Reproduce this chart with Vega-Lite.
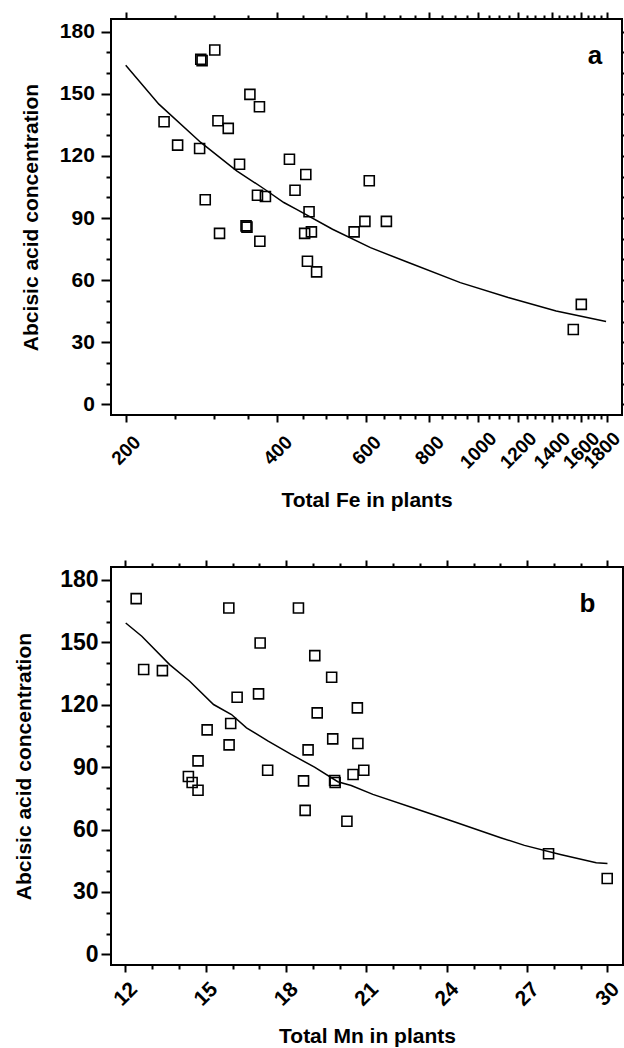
{
  "$schema": "https://vega.github.io/schema/vega-lite/v6.json",
  "padding": {"top": 10, "left": 12, "right": 1, "bottom": 0},
  "spacing": 46,
  "config": {
    "font": "Liberation Sans",
    "view": {"stroke": "black", "strokeWidth": 2},
    "axis": {
      "domain": false, "grid": false, "tickColor": "black", "tickWidth": 2,
      "labelFont": "Liberation Sans", "titleFont": "Liberation Sans",
      "labelFontWeight": "bold", "titleFontWeight": "bold",
      "labelColor": "black", "titleColor": "black",
      "labelOverlap": false, "labelFlush": false
    }
  },
  "datasets": {
    "fe_points": [
      {"fe": 281.8, "aba": 166.7}, {"fe": 283.5, "aba": 166.0}, {"fe": 300.4, "aba": 171.1},
      {"fe": 238.3, "aba": 136.5}, {"fe": 253.5, "aba": 125.2}, {"fe": 280.3, "aba": 123.6},
      {"fe": 352.7, "aba": 149.7}, {"fe": 368.4, "aba": 143.7}, {"fe": 304.8, "aba": 137.0},
      {"fe": 319.5, "aba": 133.3}, {"fe": 336.4, "aba": 116.0}, {"fe": 422.5, "aba": 118.4},
      {"fe": 455.3, "aba": 111.0}, {"fe": 608.4, "aba": 108.0}, {"fe": 433.4, "aba": 103.4},
      {"fe": 365.1, "aba": 101.0}, {"fe": 378.6, "aba": 100.4}, {"fe": 287.6, "aba": 98.8},
      {"fe": 462.1, "aba": 93.0}, {"fe": 307.0, "aba": 82.6}, {"fe": 346.5, "aba": 86.2},
      {"fe": 348.0, "aba": 85.6}, {"fe": 369.1, "aba": 78.8}, {"fe": 452.9, "aba": 82.6},
      {"fe": 467.1, "aba": 83.3}, {"fe": 458.7, "aba": 69.1}, {"fe": 478.3, "aba": 64.0},
      {"fe": 567.7, "aba": 83.3}, {"fe": 596.4, "aba": 88.4}, {"fe": 657.9, "aba": 88.4},
      {"fe": 1545, "aba": 36.2}, {"fe": 1602.6, "aba": 48.3}
    ],
    "fe_curve": [
      {"fe": 200, "aba": 163.8}, {"fe": 232.7, "aba": 145.0}, {"fe": 281.8, "aba": 126.5},
      {"fe": 332, "aba": 112.8}, {"fe": 377.3, "aba": 103.9}, {"fe": 411.8, "aba": 97.5},
      {"fe": 436.5, "aba": 94.2}, {"fe": 514.4, "aba": 84.6}, {"fe": 611.8, "aba": 75.7},
      {"fe": 727.5, "aba": 68.5}, {"fe": 922.2, "aba": 58.8}, {"fe": 1147.6, "aba": 51.6},
      {"fe": 1428.7, "aba": 45.1}, {"fe": 1794.6, "aba": 40.0}
    ],
    "mn_points": [
      {"mn": 12.40, "aba": 171.0}, {"mn": 15.86, "aba": 166.5}, {"mn": 18.46, "aba": 166.5},
      {"mn": 17.03, "aba": 149.7}, {"mn": 19.07, "aba": 143.6}, {"mn": 12.68, "aba": 136.9},
      {"mn": 13.38, "aba": 136.4}, {"mn": 19.70, "aba": 133.2}, {"mn": 16.17, "aba": 123.6},
      {"mn": 16.97, "aba": 125.2}, {"mn": 20.66, "aba": 118.5}, {"mn": 19.16, "aba": 116.1},
      {"mn": 15.93, "aba": 111.0}, {"mn": 15.05, "aba": 107.9}, {"mn": 19.74, "aba": 103.6},
      {"mn": 20.68, "aba": 101.4}, {"mn": 15.87, "aba": 100.7}, {"mn": 18.82, "aba": 98.3},
      {"mn": 14.71, "aba": 93.0}, {"mn": 14.35, "aba": 85.5}, {"mn": 14.49, "aba": 82.6},
      {"mn": 14.71, "aba": 78.9}, {"mn": 17.31, "aba": 88.5}, {"mn": 18.65, "aba": 83.4},
      {"mn": 18.71, "aba": 69.2}, {"mn": 19.81, "aba": 83.6}, {"mn": 19.83, "aba": 82.6},
      {"mn": 20.50, "aba": 86.5}, {"mn": 20.90, "aba": 88.5}, {"mn": 20.27, "aba": 64.0},
      {"mn": 27.80, "aba": 48.4}, {"mn": 29.99, "aba": 36.5}
    ],
    "mn_curve": [
      {"mn": 12.01, "aba": 159.3}, {"mn": 12.61, "aba": 152.9}, {"mn": 13.65, "aba": 139.3},
      {"mn": 14.40, "aba": 131.3}, {"mn": 15.29, "aba": 120.1}, {"mn": 15.96, "aba": 115.3},
      {"mn": 16.52, "aba": 108.9}, {"mn": 17.33, "aba": 102.5}, {"mn": 18.19, "aba": 96.1},
      {"mn": 19.06, "aba": 90.0}, {"mn": 19.93, "aba": 83.0}, {"mn": 20.43, "aba": 81.2},
      {"mn": 21.24, "aba": 76.9}, {"mn": 22.73, "aba": 70.5}, {"mn": 24.22, "aba": 64.0},
      {"mn": 26.01, "aba": 56.1}, {"mn": 26.90, "aba": 52.4}, {"mn": 28.24, "aba": 48.0},
      {"mn": 29.58, "aba": 44.0}, {"mn": 30.00, "aba": 43.7}
    ],
    "label_a": [{"panel": "a", "fe": 1705, "aba": 164.3}],
    "label_b": [{"panel": "b", "mn": 29.25, "aba": 164.6}]
  },
  "vconcat": [
    {
      "width": 511,
      "height": 396,
      "resolve": {"axis": {"x": "independent", "y": "independent"}},
      "layer": [
        {
          "data": {"name": "fe_points"},
          "mark": {"type": "point", "shape": "square", "filled": false, "size": 100, "stroke": "black", "strokeWidth": 1.6, "opacity": 1},
          "encoding": {
            "x": {"field": "fe", "type": "quantitative", "scale": {"type": "log", "domain": [187, 1930], "nice": false},
              "axis": {"orient": "bottom", "values": [200, 400, 600, 800, 1000, 1200, 1400, 1600, 1800], "format": "d",
                "labelAngle": -45, "labelAlign": "center", "labelBaseline": "middle", "tickSize": 7, "labelPadding": 28,
                "labelOffset": {"condition": {"test": "datum.value >= 1800", "value": -5}, "value": 0},
                "labelFontSize": 19, "title": "Total Fe in plants", "titleFontSize": 21, "titlePadding": 17}},
            "y": {"field": "aba", "type": "quantitative", "scale": {"domain": [-5.1, 186.1], "nice": false},
              "axis": {"orient": "left", "values": [0, 30, 60, 90, 120, 150, 180], "tickSize": 10, "labelPadding": 6.6,
                "labelFontSize": 21, "title": "Abcisic acid concentration", "titleFontSize": 21, "titlePadding": 18}}
          }
        },
        {
          "data": {"name": "fe_points"},
          "mark": {"type": "point", "opacity": 0},
          "encoding": {
            "x": {"field": "fe", "type": "quantitative", "scale": {"type": "log", "domain": [187, 1930], "nice": false},
              "axis": {"orient": "bottom", "values": [250, 300, 350, 450, 500, 550, 650, 700, 750, 850, 900, 950, 1050, 1100, 1150, 1250, 1300, 1350, 1450, 1500, 1550, 1650, 1700, 1750],
                "labels": false, "tickSize": 4, "title": null}},
            "y": {"field": "aba", "type": "quantitative", "scale": {"domain": [-5.1, 186.1], "nice": false},
              "axis": {"orient": "left", "values": [10, 20, 40, 50, 70, 80, 100, 110, 130, 140, 160, 170], "labels": false, "tickSize": 5, "title": null}}
          }
        },
        {
          "data": {"name": "fe_curve"},
          "mark": {"type": "line", "color": "black", "strokeWidth": 1.5},
          "encoding": {
            "x": {"field": "fe", "type": "quantitative", "scale": {"type": "log", "domain": [187, 1930], "nice": false},
              "axis": {"orient": "top", "values": [200, 400, 600, 800, 1000, 1200, 1400, 1600, 1800], "labels": false, "tickSize": 7, "title": null}},
            "y": {"field": "aba", "type": "quantitative", "scale": {"domain": [-5.1, 186.1], "nice": false},
              "axis": {"orient": "right", "values": [0, 30, 60, 90, 120, 150, 180], "labels": false, "tickSize": 8, "title": null}}
          }
        },
        {
          "data": {"name": "fe_curve"},
          "mark": {"type": "point", "opacity": 0},
          "encoding": {
            "x": {"field": "fe", "type": "quantitative", "scale": {"type": "log", "domain": [187, 1930], "nice": false},
              "axis": {"orient": "top", "values": [250, 300, 350, 450, 500, 550, 650, 700, 750, 850, 900, 950, 1050, 1100, 1150, 1250, 1300, 1350, 1450, 1500, 1550, 1650, 1700, 1750],
                "labels": false, "tickSize": 4, "title": null}},
            "y": {"field": "aba", "type": "quantitative", "scale": {"domain": [-5.1, 186.1], "nice": false},
              "axis": {"orient": "right", "values": [10, 20, 40, 50, 70, 80, 100, 110, 130, 140, 160, 170], "labels": false, "tickSize": 5, "title": null}}
          }
        },
        {
          "data": {"name": "label_a"},
          "mark": {"type": "text", "fontSize": 26, "fontWeight": "bold", "align": "center", "baseline": "alphabetic", "color": "black"},
          "encoding": {
            "text": {"field": "panel"},
            "x": {"field": "fe", "type": "quantitative", "scale": {"type": "log", "domain": [187, 1930], "nice": false}, "axis": null},
            "y": {"field": "aba", "type": "quantitative", "scale": {"domain": [-5.1, 186.1], "nice": false}, "axis": null}
          }
        }
      ]
    },
    {
      "width": 512,
      "height": 398,
      "resolve": {"axis": {"x": "independent", "y": "independent"}},
      "layer": [
        {
          "data": {"name": "mn_points"},
          "mark": {"type": "point", "shape": "square", "filled": false, "size": 100, "stroke": "black", "strokeWidth": 1.6, "opacity": 1},
          "encoding": {
            "x": {"field": "mn", "type": "quantitative", "scale": {"domain": [11.46, 30.58], "nice": false},
              "axis": {"orient": "bottom", "values": [12, 15, 18, 21, 24, 27, 30],
                "labelAngle": -45, "labelAlign": "center", "labelBaseline": "middle", "tickSize": 7, "labelPadding": 22,
                "labelFontSize": 21, "title": "Total Mn in plants", "titleFontSize": 21, "titlePadding": 16}},
            "y": {"field": "aba", "type": "quantitative", "scale": {"domain": [-5.1, 186.2], "nice": false},
              "axis": {"orient": "left", "values": [0, 30, 60, 90, 120, 150, 180], "tickSize": 10, "labelPadding": 3,
                "labelFontSize": 23, "title": "Abcisic acid concentration", "titleFontSize": 21, "titlePadding": 25}}
          }
        },
        {
          "data": {"name": "mn_points"},
          "mark": {"type": "point", "opacity": 0},
          "encoding": {
            "x": {"field": "mn", "type": "quantitative", "scale": {"domain": [11.46, 30.58], "nice": false},
              "axis": {"orient": "bottom", "values": [13, 14, 16, 17, 19, 20, 22, 23, 25, 26, 28, 29], "labels": false, "tickSize": 4, "title": null}},
            "y": {"field": "aba", "type": "quantitative", "scale": {"domain": [-5.1, 186.2], "nice": false},
              "axis": {"orient": "left", "values": [10, 20, 40, 50, 70, 80, 100, 110, 130, 140, 160, 170], "labels": false, "tickSize": 5, "title": null}}
          }
        },
        {
          "data": {"name": "mn_curve"},
          "mark": {"type": "line", "color": "black", "strokeWidth": 1.5},
          "encoding": {
            "x": {"field": "mn", "type": "quantitative", "scale": {"domain": [11.46, 30.58], "nice": false},
              "axis": {"orient": "top", "values": [12, 15, 18, 21, 24, 27, 30], "labels": false, "tickSize": 7, "title": null}},
            "y": {"field": "aba", "type": "quantitative", "scale": {"domain": [-5.1, 186.2], "nice": false},
              "axis": {"orient": "right", "values": [0, 30, 60, 90, 120, 150, 180], "labels": false, "tickSize": 1, "title": null}}
          }
        },
        {
          "data": {"name": "mn_curve"},
          "mark": {"type": "point", "opacity": 0},
          "encoding": {
            "x": {"field": "mn", "type": "quantitative", "scale": {"domain": [11.46, 30.58], "nice": false},
              "axis": {"orient": "top", "values": [13, 14, 16, 17, 19, 20, 22, 23, 25, 26, 28, 29], "labels": false, "tickSize": 4, "title": null}},
            "y": {"field": "aba", "type": "quantitative", "scale": {"domain": [-5.1, 186.2], "nice": false},
              "axis": {"orient": "right", "values": [10, 20, 40, 50, 70, 80, 100, 110, 130, 140, 160, 170], "labels": false, "tickSize": 1, "title": null}}
          }
        },
        {
          "data": {"name": "label_b"},
          "mark": {"type": "text", "fontSize": 26, "fontWeight": "bold", "align": "center", "baseline": "alphabetic", "color": "black"},
          "encoding": {
            "text": {"field": "panel"},
            "x": {"field": "mn", "type": "quantitative", "scale": {"domain": [11.46, 30.58], "nice": false}, "axis": null},
            "y": {"field": "aba", "type": "quantitative", "scale": {"domain": [-5.1, 186.2], "nice": false}, "axis": null}
          }
        }
      ]
    }
  ]
}
